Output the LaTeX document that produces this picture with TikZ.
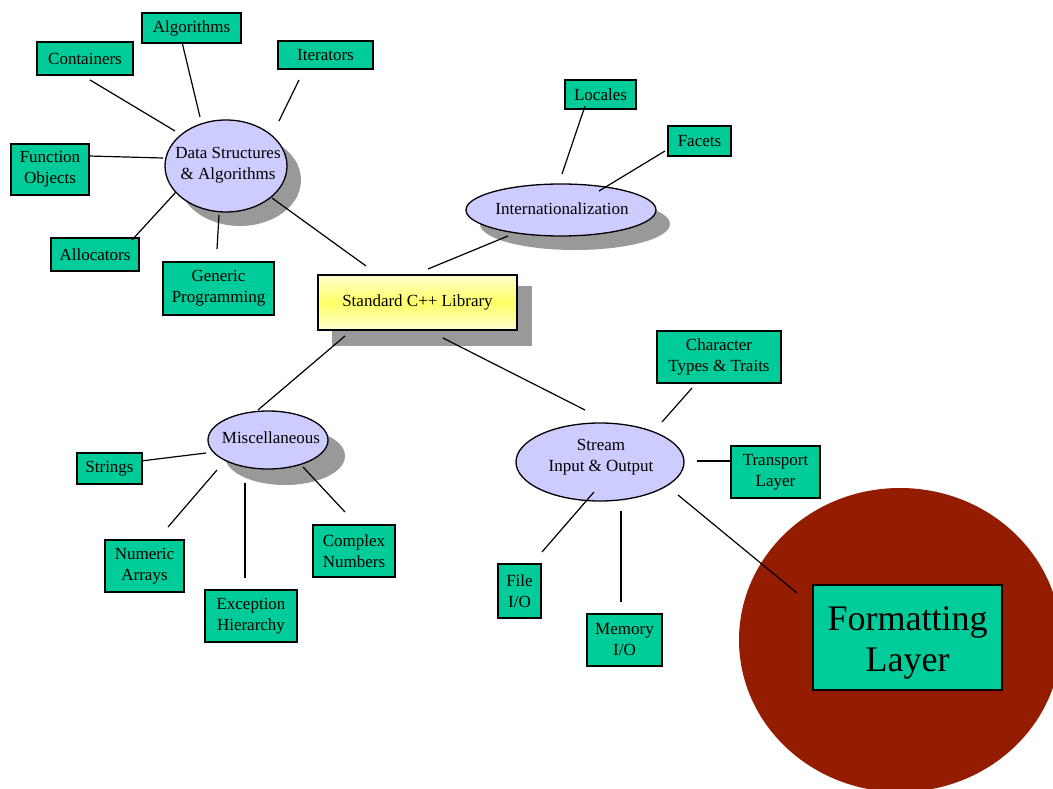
\documentclass[tikz,border=0pt]{standalone}
\usepackage{fontspec}
\setmainfont{Liberation Serif}
\usetikzlibrary{shapes.geometric}
\definecolor{boxgreen}{HTML}{00CC99}
\definecolor{lav}{HTML}{CCCCFF}
\definecolor{shade}{HTML}{999999}
\definecolor{darkred}{HTML}{941C00}
\definecolor{paleyel}{HTML}{FFFFD0}
\definecolor{midyel}{HTML}{FFFF66}
\tikzset{
  box/.style={draw=black, line width=1.2pt, fill=boxgreen, inner sep=0pt, align=center,
    font=\fontsize{17}{21}\selectfont},
  oval/.style={ellipse, draw=black, line width=1.3pt, fill=lav, inner sep=0pt},
  ovaltext/.style={align=center, inner sep=0pt, font=\fontsize{17}{21}\selectfont},
  shad/.style={ellipse, fill=shade, draw=none, inner sep=0pt},
  conn/.style={line width=1.2pt, black},
}
\begin{document}
\begin{tikzpicture}[x=1pt,y=-1pt]
\clip (0,0) rectangle (1053,789);
\fill[white] (0,0) rectangle (1053,789);
% big circle
\fill[darkred] (900,640) ellipse [x radius=161, y radius=152];
% shadows
\node[shad, minimum width=122pt, minimum height=92pt] (dsS) at (240,180) {};
\node[shad, minimum width=190pt, minimum height=52pt] (inS) at (575,224) {};
\node[shad, minimum width=120pt, minimum height=58pt] (miS) at (285,456) {};
\node[fill=shade, minimum width=200pt, minimum height=60pt, inner sep=0pt] (stdS) at (432,316) {};
% ellipses
\node[oval, minimum width=122pt, minimum height=92pt] (ds) at (226,166) {};
\node[ovaltext] (dsT) at (228,165) {Data Structures\\\& Algorithms};
\node[oval, minimum width=190pt, minimum height=52pt] (intl) at (561,210) {};
\node[ovaltext] (intlT) at (562,209) {Internationalization};
\node[oval, minimum width=120pt, minimum height=58pt] (misc) at (268,440) {};
\node[ovaltext] (miscT) at (271,438) {Miscellaneous};
\node[oval, minimum width=168pt, minimum height=78pt] (io) at (600,462) {};
\node[ovaltext] (ioT) at (601,457) {Stream\\Input \& Output};
% central
\node[draw=black, line width=1.4pt, top color=paleyel, bottom color=paleyel, middle color=midyel,
  minimum width=199pt, minimum height=55pt, inner sep=0pt, font=\fontsize{17}{21}\selectfont]
  (std) at (417.5,302.5) {Standard C++ Library};
% boxes
\node[box, minimum width=99pt, minimum height=30pt] (alg) at (191.5,28) {Algorithms};
\node[box, minimum width=96pt, minimum height=33pt] (cont) at (85,58.5) {Containers};
\node[box, minimum width=95pt, minimum height=28pt] (iter) at (325.5,55) {Iterators};
\node[box, minimum width=78pt, minimum height=51pt] (func) at (50,169.5) {Function\\Objects};
\node[box, minimum width=88pt, minimum height=33pt] (alloc) at (95,254.5) {Allocators};
\node[box, minimum width=111pt, minimum height=53pt] (gen) at (218.5,288.5) {Generic\\Programming};
\node[box, minimum width=71pt, minimum height=29pt] (loc) at (600.5,94.5) {Locales};
\node[box, minimum width=63pt, minimum height=30pt] (fac) at (699.5,141) {Facets};
\node[box, minimum width=124pt, minimum height=52pt] (chr) at (719,357) {Character\\Types \& Traits};
\node[box, minimum width=89pt, minimum height=52pt] (trans) at (775.5,472) {Transport\\Layer};
\node[box, minimum width=65pt, minimum height=31pt] (str) at (109.5,468.5) {Strings};
\node[box, minimum width=79pt, minimum height=52pt] (num) at (144.5,566) {Numeric\\Arrays};
\node[box, minimum width=92pt, minimum height=52pt] (exc) at (251,616) {Exception\\Hierarchy};
\node[box, minimum width=82pt, minimum height=52pt] (cpx) at (354,551) {Complex\\Numbers};
\node[box, minimum width=43pt, minimum height=54pt] (file) at (519.5,591) {File\\I/O};
\node[box, minimum width=75pt, minimum height=52pt] (mem) at (624.5,640) {Memory\\I/O};
\node[box, minimum width=189pt, minimum height=105pt] (fmt) at (907.5,637.5) {};
\node[align=center, inner sep=0pt, font=\fontsize{36}{41}\selectfont] (fmtT) at (907.5,643) {Formatting\\Layer};
% connector end points
\coordinate (contE) at (90,80);   \coordinate (contD) at (175,131);
\coordinate (algE) at (182,42);   \coordinate (algD) at (200,117);
\coordinate (iterE) at (299,80);  \coordinate (iterD) at (279,121);
\coordinate (funcE) at (89,156);  \coordinate (funcD) at (163,158);
\coordinate (allocE) at (132,240);\coordinate (allocD) at (176,192);
\coordinate (genE) at (217,249);  \coordinate (genD) at (219,215);
\coordinate (dsE) at (272,198);   \coordinate (dsStd) at (366,266);
\coordinate (intlE) at (508,236); \coordinate (intlStd) at (428,269);
\coordinate (locE) at (585,106);  \coordinate (locI) at (562,174);
\coordinate (facE) at (665,151);  \coordinate (facI) at (599,191);
\coordinate (stdM) at (345,336);  \coordinate (miscE) at (258,410);
\coordinate (stdI) at (443,338);  \coordinate (ioE) at (585,410);
\coordinate (strE) at (141,461);  \coordinate (strM) at (206,453);
\coordinate (numE) at (168,527);  \coordinate (numM) at (217,470);
\coordinate (excE) at (245,578);  \coordinate (excM) at (245,483);
\coordinate (cpxE) at (345,512);  \coordinate (cpxM) at (303,467);
\coordinate (chrE) at (692,388);  \coordinate (chrI) at (662,422);
\coordinate (transE) at (731,461);\coordinate (transI) at (697,461);
\coordinate (fileE) at (542,552); \coordinate (fileI) at (594,492);
\coordinate (memE) at (621,602);  \coordinate (memI) at (621,511);
\coordinate (fmtE) at (797,593);  \coordinate (fmtI) at (678,495);
% connectors
\draw[conn] (contE) -- (contD);
\draw[conn] (algE) -- (algD);
\draw[conn] (iterE) -- (iterD);
\draw[conn] (funcE) -- (funcD);
\draw[conn] (allocE) -- (allocD);
\draw[conn] (genE) -- (genD);
\draw[conn] (dsE) -- (dsStd);
\draw[conn] (intlE) -- (intlStd);
\draw[conn] (locE) -- (locI);
\draw[conn] (facE) -- (facI);
\draw[conn] (stdM) -- (miscE);
\draw[conn] (stdI) -- (ioE);
\draw[conn] (strE) -- (strM);
\draw[conn] (numE) -- (numM);
\draw[conn] (excE) -- (excM);
\draw[conn] (cpxE) -- (cpxM);
\draw[conn] (chrE) -- (chrI);
\draw[conn] (transE) -- (transI);
\draw[conn] (fileE) -- (fileI);
\draw[conn] (memE) -- (memI);
\draw[conn] (fmtE) -- (fmtI);
\end{tikzpicture}
\end{document}
